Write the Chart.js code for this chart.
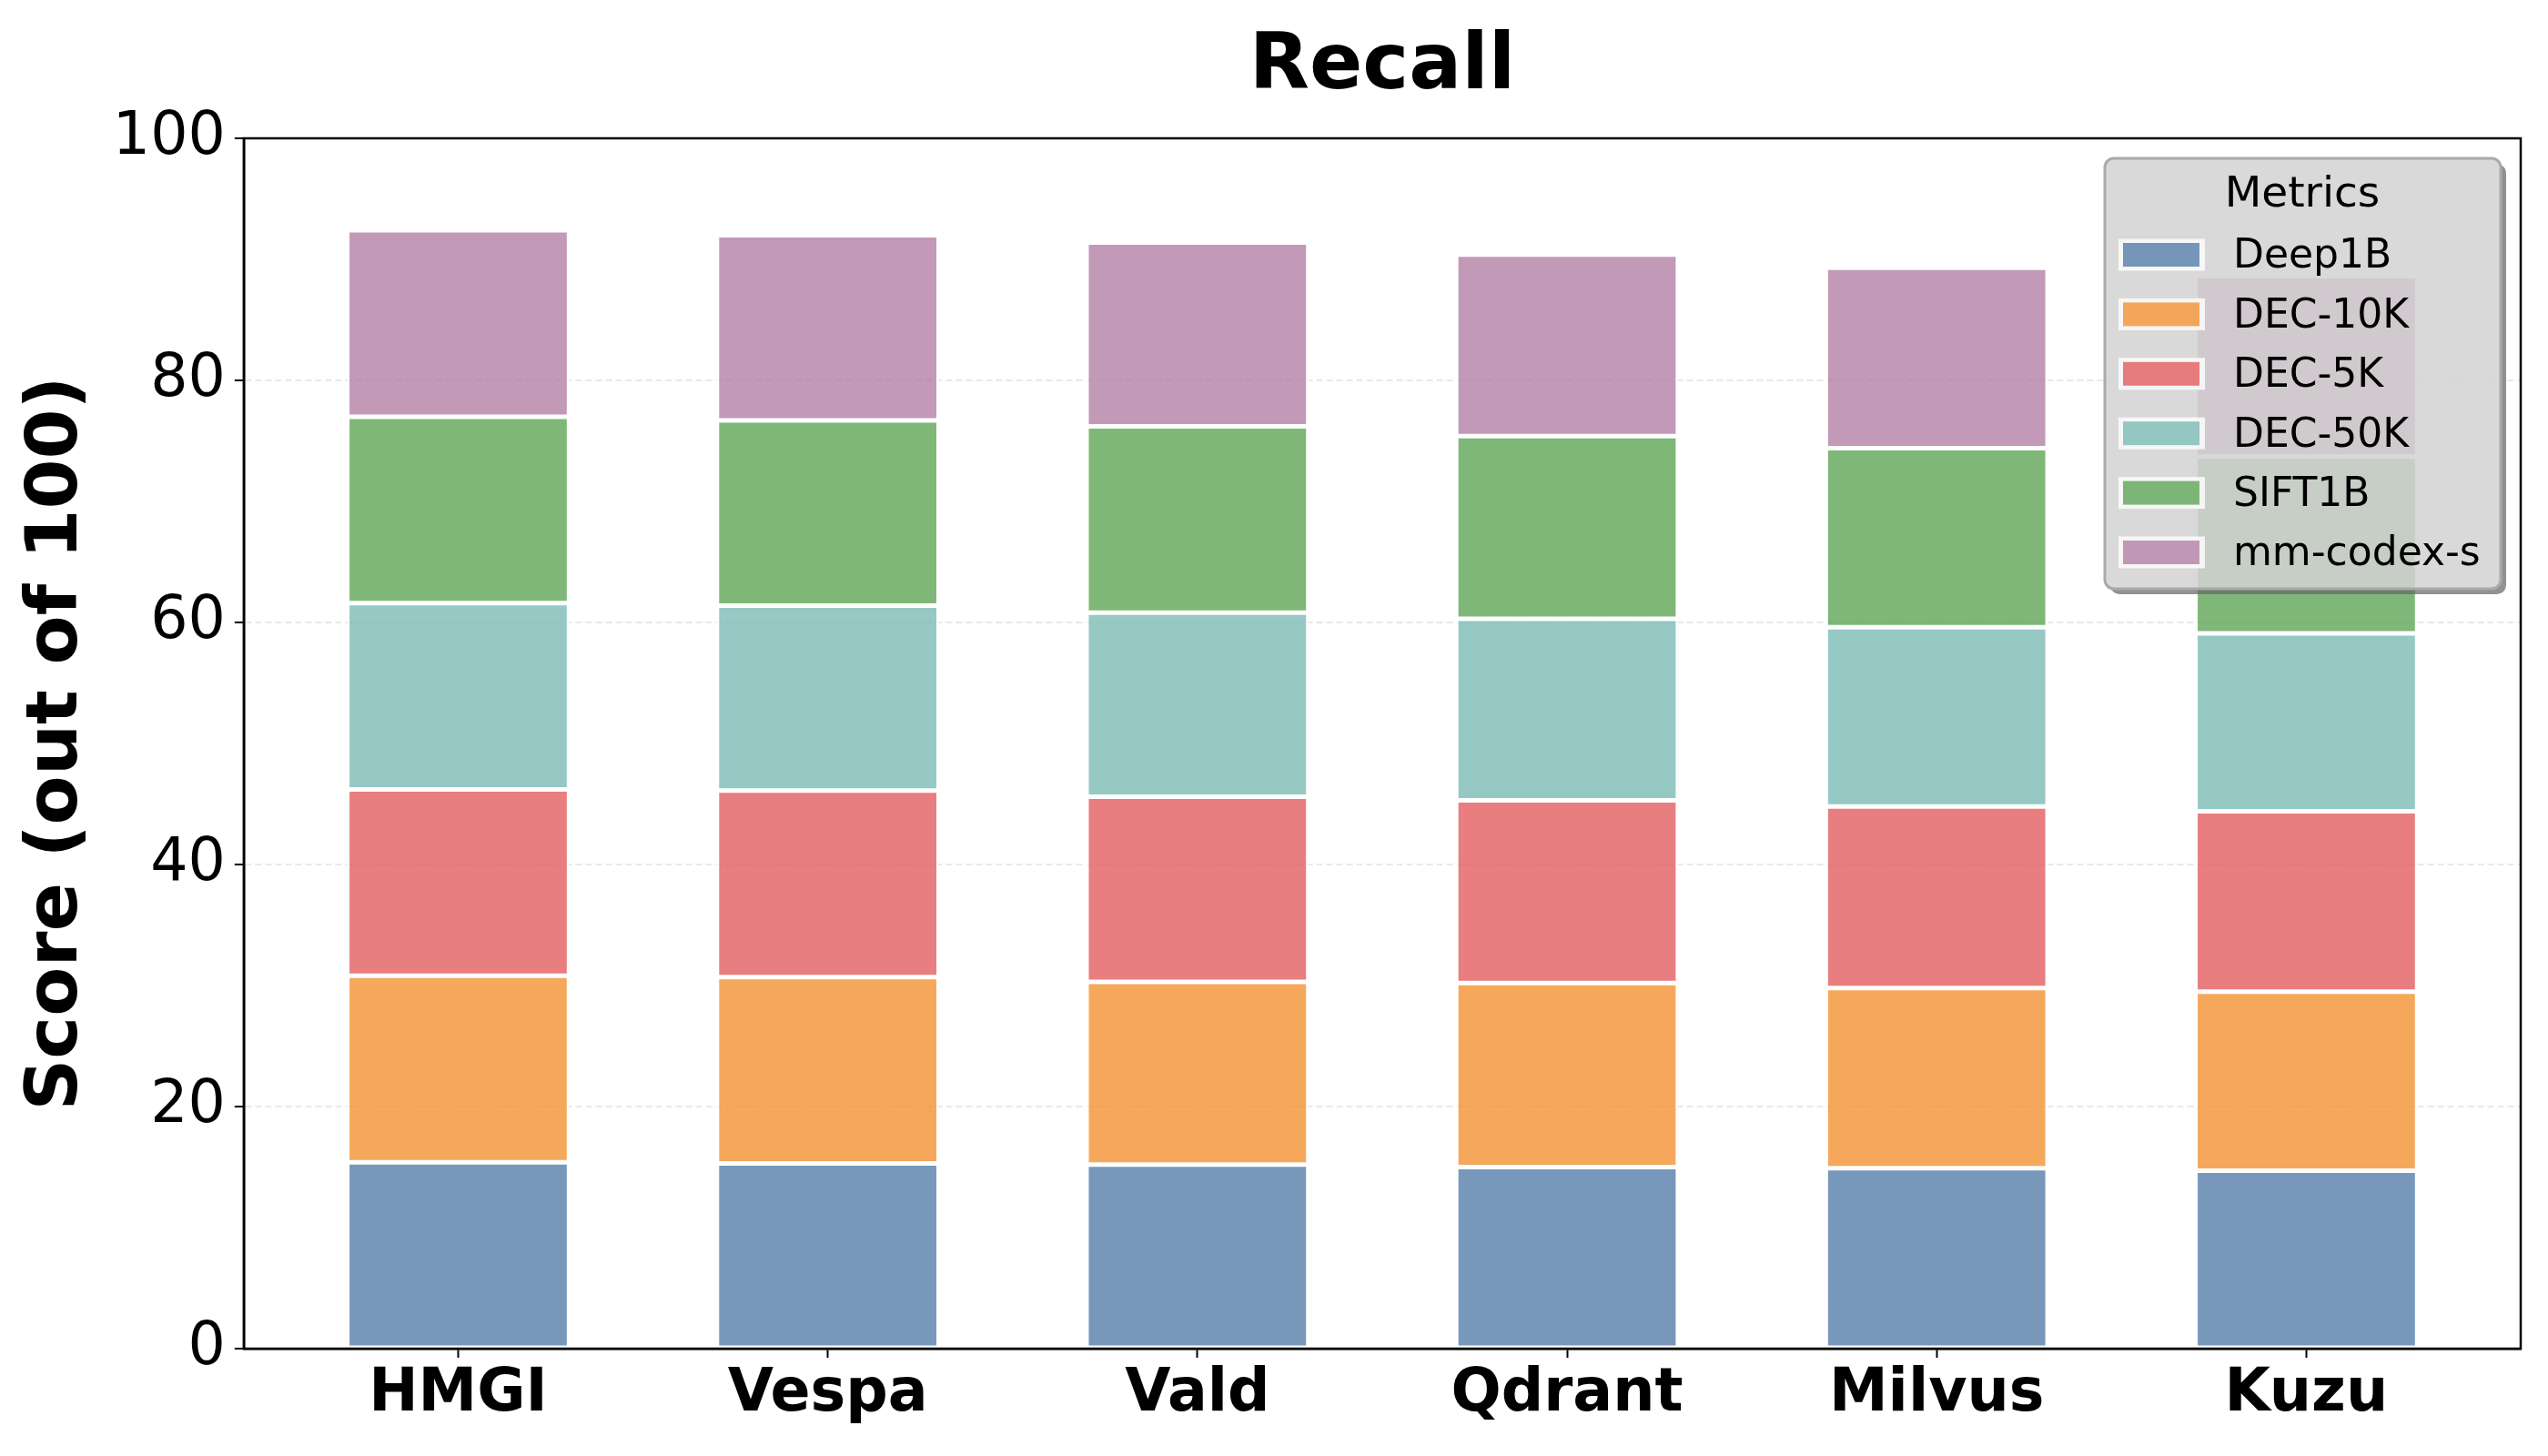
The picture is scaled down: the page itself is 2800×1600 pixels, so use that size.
<!DOCTYPE html>
<html>
<head>
  <title>Recall</title>
  <script src="https://cdn.jsdelivr.net/npm/chart.js"></script>
  <style>
    body { margin: 0; background: #fff; }
    #wrap { width: 2800px; height: 1600px; }
  </style>
</head>
<body>
  <div id="wrap"><canvas id="chart" width="2800" height="1600"></canvas></div>
  <script>
    // values (score out of 100, stacked per system)
    const systems = ["HMGI", "Vespa", "Vald", "Qdrant", "Milvus", "Kuzu"];
    const metricNames = ["Deep1B", "DEC-10K", "DEC-5K", "DEC-50K", "SIFT1B", "mm-codex-s"];
    const deep1b  = [15.4, 15.3, 15.2, 15.0, 14.9, 14.7];
    const dec10k  = [15.4, 15.4, 15.1, 15.2, 14.9, 14.8];
    const dec5k   = [15.4, 15.4, 15.3, 15.1, 15.0, 14.9];
    const dec50k  = [15.4, 15.3, 15.2, 15.0, 14.8, 14.7];
    const sift1b  = [15.4, 15.3, 15.4, 15.1, 14.8, 14.6];
    const mmCodex = [15.4, 15.3, 15.2, 15.0, 14.9, 14.9];
    const yTicks = [0, 20, 40, 60, 80, 100];

    const palette = ['78,121,167', '242,142,43', '225,87,89', '118,183,178', '89,161,79', '176,122,161'];
    const FONT = "'DejaVu Sans', sans-serif";

    const series = [deep1b, dec10k, dec5k, dec50k, sift1b, mmCodex];
    const datasets = series.map((vals, i) => ({
      label: metricNames[i],
      data: vals.map((v, k) => ({ x: k, y: v })),
      backgroundColor: `rgba(${palette[i]},0.77)`,
      borderColor: 'rgba(255,255,255,0.85)',
      borderWidth: 2.5,
      borderSkipped: false,
      categoryPercentage: 1.0,
      barPercentage: 0.6
    }));

    // title centred over the plot area, like matplotlib does
    const plotTitle = {
      id: 'plotTitle',
      afterDraw(chart) {
        const { ctx, chartArea: a } = chart;
        ctx.save();
        ctx.fillStyle = '#000';
        ctx.font = `bold 86px ${FONT}`;
        ctx.textAlign = 'center';
        ctx.textBaseline = 'alphabetic';
        ctx.fillText('Recall', (a.left + a.right) / 2, 97);
        ctx.restore();
      }
    };

    // full box around the plot
    const frame = {
      id: 'frame',
      afterDatasetsDraw(chart) {
        const { ctx, chartArea: a } = chart;
        ctx.save();
        ctx.strokeStyle = '#000';
        ctx.lineWidth = 2.5;
        ctx.strokeRect(a.left, a.top, a.right - a.left, a.bottom - a.top);
        ctx.restore();
      }
    };

    // matplotlib-like legend box inside the upper right corner
    const boxLegend = {
      id: 'boxLegend',
      afterDraw(chart) {
        const { ctx, chartArea: a } = chart;
        const w = 435, h = 473;
        const x = a.right - 22 - w, y = a.top + 22;
        const r = 10;
        ctx.save();

        // shadow, only outside the box
        ctx.save();
        ctx.beginPath();
        ctx.rect(0, 0, chart.width, chart.height);
        ctx.roundRect(x, y, w, h, r);
        ctx.clip('evenodd');
        ctx.fillStyle = 'rgba(100,100,100,0.7)';
        ctx.beginPath();
        ctx.roundRect(x + 6, y + 6, w, h, r);
        ctx.fill();
        ctx.restore();

        ctx.beginPath();
        ctx.roundRect(x, y, w, h, r);
        ctx.fillStyle = 'rgba(210,210,210,0.85)';
        ctx.fill();
        ctx.lineWidth = 3;
        ctx.strokeStyle = '#aaaaaa';
        ctx.stroke();

        ctx.fillStyle = '#000';
        ctx.textBaseline = 'middle';
        ctx.textAlign = 'center';
        ctx.font = `47px ${FONT}`;
        ctx.fillText('Metrics', x + 217, y + 41);

        ctx.textAlign = 'left';
        ctx.font = `44px ${FONT}`;
        chart.data.datasets.forEach((ds, i) => {
          const cy = y + 106 + i * 65.4;
          ctx.fillStyle = 'rgba(255,255,255,0.8)';
          ctx.fillRect(x + 15, cy - 17.5, 95, 35);
          ctx.fillStyle = ds.backgroundColor;
          ctx.fillRect(x + 20, cy - 13, 84, 26);
          ctx.fillStyle = '#000';
          ctx.fillText(ds.label, x + 141, cy + 3);
        });
        ctx.restore();
      }
    };

    new Chart(document.getElementById('chart'), {
      type: 'bar',
      data: { datasets },
      plugins: [frame, plotTitle, boxLegend],
      options: {
        responsive: false,
        animation: false,
        layout: { padding: { left: 0, right: 30, top: 152, bottom: 26 } },
        plugins: {
          legend: { display: false },
          tooltip: { enabled: false },
          title: { display: false }
        },
        scales: {
          x: {
            type: 'linear',
            stacked: true,
            offset: false,
            min: -0.58,
            max: systems.length - 1 + 0.58,
            afterBuildTicks: s => { s.ticks = systems.map((_, i) => ({ value: i })); },
            border: { display: true, color: '#000', width: 2.5 },
            grid: { offset: false, drawOnChartArea: false, drawTicks: true, tickLength: 10, tickColor: '#000', tickWidth: 2 },
            ticks: {
              color: '#000',
              padding: 2,
              maxRotation: 0,
              autoSkip: false,
              callback: v => systems[v],
              font: { family: FONT, size: 65, weight: 'bold' }
            }
          },
          y: {
            stacked: true,
            min: 0,
            max: 100,
            afterBuildTicks: s => { s.ticks = yTicks.map(v => ({ value: v })); },
            border: { display: true, color: '#000', width: 2.5, dash: [7, 4] },
            grid: {
              color: c => (c.tick && c.tick.value > 0 && c.tick.value < 100) ? 'rgba(200,200,200,0.4)' : 'rgba(0,0,0,0)',
              lineWidth: 2,
              tickColor: '#000',
              tickLength: 10,
              tickWidth: 2,
              drawTicks: true
            },
            ticks: { color: '#000', padding: 10, font: { family: FONT, size: 65 } },
            title: {
              display: true,
              text: 'Score (out of 100)',
              color: '#000',
              font: { family: FONT, size: 79, weight: 'bold' },
              padding: { top: 16, bottom: 3 }
            }
          }
        }
      }
    });
  </script>
</body>
</html>
